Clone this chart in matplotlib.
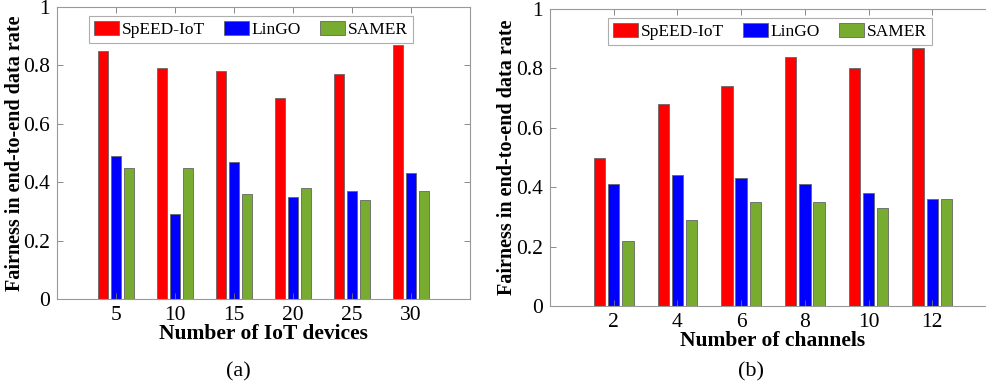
import numpy as np
import matplotlib
matplotlib.use("Agg")
import matplotlib.pyplot as plt

plt.rcParams['font.family'] = ['Liberation Serif', 'DejaVu Serif']
plt.rcParams['mathtext.fontset'] = 'stix'

methods = ["SpEED-IoT", "LinGO", "SAMER"]
colors = ["#FF0000", "#0000FF", "#77AC30"]

devices = [5, 10, 15, 20, 25, 30]
speed_dev = [0.85, 0.79, 0.78, 0.69, 0.77, 0.87]
lingo_dev = [0.49, 0.29, 0.47, 0.35, 0.37, 0.43]
samer_dev = [0.45, 0.45, 0.36, 0.38, 0.34, 0.37]

channels = [2, 4, 6, 8, 10, 12]
speed_ch = [0.50, 0.68, 0.74, 0.84, 0.80, 0.87]
lingo_ch = [0.41, 0.44, 0.43, 0.41, 0.38, 0.36]
samer_ch = [0.22, 0.29, 0.35, 0.35, 0.33, 0.36]

W, H = 987, 389
fig = plt.figure(figsize=(W / 100, H / 100), dpi=100)


def px_axes(x0, y0, x1, y1):
    return fig.add_axes([x0 / W, (H - y1) / H, (x1 - x0) / W, (y1 - y0) / H])


def grouped(ax, labels, series, xlabel, legend_box, ylab_x):
    x = np.arange(1, len(labels) + 1)
    off, bw = 0.222, 0.178
    for i, (vals, c, name) in enumerate(zip(series, colors, methods)):
        ax.bar(x + (i - 1) * off, vals, bw, color=c, edgecolor="#666666",
               linewidth=0.6, label=name)
    ax.set_xlim(0, len(labels) + 1)
    ax.set_ylim(0, 1)
    ax.set_xticks(x)
    ax.set_xticklabels([str(v) for v in labels])
    ax.set_yticks([0, 0.2, 0.4, 0.6, 0.8, 1])
    ax.set_yticklabels(["0", "0.2", "0.4", "0.6", "0.8", "1"])
    ax.tick_params(direction="in", top=True, right=True, labelsize=15.5,
                   length=4, color="#777777", width=0.6, pad=5)
    for s in ax.spines.values():
        s.set_color("#999999")
        s.set_linewidth(0.8)
    ax.set_xlabel(xlabel, fontsize=15.5, fontweight="bold", labelpad=-1)
    ax.set_ylabel("Fairness in end-to-end data rate", fontsize=14.5,
                  fontweight="bold")
    ax.yaxis.set_label_coords(ylab_x, 0.5)
    leg = ax.legend(loc="center", bbox_to_anchor=legend_box,
                    bbox_transform=fig.transFigure, ncol=3, fontsize=12.5,
                    frameon=True, fancybox=False, edgecolor="#999999",
                    handlelength=1.45, handleheight=0.85, handletextpad=0.15,
                    columnspacing=1.1, borderpad=0.3)
    leg.get_frame().set_linewidth(0.8)


ax1 = px_axes(57, 7, 470, 299)
grouped(ax1, devices, [speed_dev, lingo_dev, samer_dev],
        "Number of IoT devices", ((97 + 405) / 2 / W, 1 - 29.5 / H), -0.0775)
fig.text(238 / W, 1 - 372 / H, "(a)", ha="center", va="center", fontsize=16)

ax2 = px_axes(550, 9, 996, 306)
grouped(ax2, channels, [speed_ch, lingo_ch, samer_ch],
        "Number of channels", ((624 + 916) / 2 / W, 1 - 31.5 / H), -0.0747)
fig.text(751 / W, 1 - 372 / H, "(b)", ha="center", va="center", fontsize=16)

fig.savefig("out.png", dpi=100)
